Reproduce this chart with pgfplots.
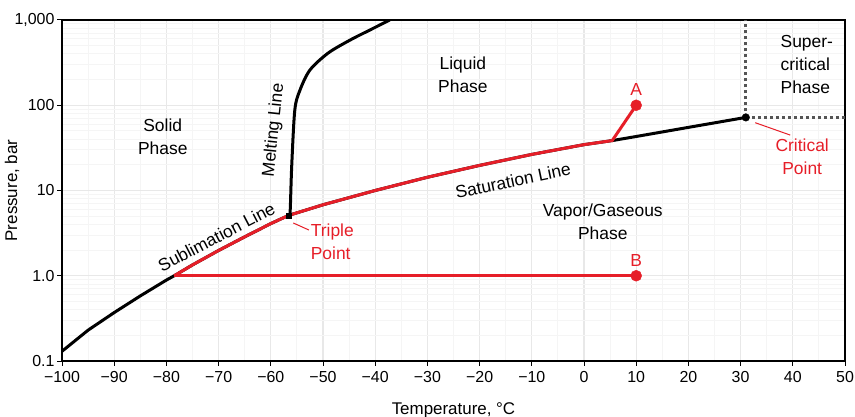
\documentclass[border=0pt]{standalone}
\usepackage{pgfplots}
\pgfplotsset{compat=1.18}
\usepackage{fontspec}
\setmainfont{Liberation Sans}
\definecolor{cred}{RGB}{230,30,40}
\definecolor{cdash}{RGB}{85,85,85}
\tikzset{lbl/.style={font=\fontsize{17.5}{23}\selectfont, align=center}}

\begin{document}
\begin{tikzpicture}
\begin{axis}[
  name=ax,
  scale only axis,
  width=783bp, height=341bp,
  xmin=-100, xmax=50,
  ymode=log, ymin=0.1, ymax=1000,
  xtick={-100,-90,...,50},
  xticklabels={−100,−90,−80,−70,−60,−50,−40,−30,−20,−10,0,10,20,30,40,50},
  ytick={0.1,1,10,100,1000},
  yticklabels={0.1,1.0,10,100,{1,000}},
  minor x tick num=1,
  grid=both,
  major grid style={gray!18, line width=1.2pt},
  minor grid style={gray!8, line width=1pt},
  tick align=outside,
  tick pos=left,
  major tick length=5bp,
  minor tick length=0pt,
  tick style={black, line width=1pt},
  axis line style={line width=1.1pt},
  ticklabel style={font=\fontsize{16}{19}\selectfont},
  xticklabel style={yshift=-2bp},
  yticklabel style={xshift=1bp},
  xlabel={Temperature, °C},
  ylabel={Pressure, bar},
  every axis x label/.style={at={(axis description cs:0.5,-0.1437)}, anchor=center, font=\fontsize{17}{20}\selectfont},
  every axis y label/.style={at={(axis description cs:-0.0639,0.5)}, anchor=center, rotate=90, font=\fontsize{17}{20}\selectfont},
]
% sublimation line
\addplot[black, line width=3bp] coordinates {
  (-100,0.13)(-95,0.23)(-90,0.37)(-85,0.58)(-80,0.89)(-78.5,1.0)(-75,1.34)(-70,1.98)(-65,2.86)(-60,4.09)(-56.6,5.1)};
% saturation line
\addplot[black, line width=3bp] coordinates {
  (-56.6,5.1)(-50,6.8)(-40,10.0)(-30,14.3)(-20,19.7)(-10,26.5)(0,34.5)(5.4,38.5)(10,43)(20,55)(31,72)};
% melting line
\addplot[black, line width=3bp, smooth] coordinates {
  (-56.6,5.1)(-56.3,5.6)(-56,19)(-55.4,88)(-54.4,151)(-52.5,259)(-49,410)(-44.8,582)(-41,764)(-37.2,1000)};
% supercritical boundaries
\addplot[cdash, line width=3bp, dash pattern=on 3.5bp off 2.5bp] coordinates {(31,72)(31,1000)};
\addplot[cdash, line width=3bp, dash pattern=on 3.5bp off 2.5bp] coordinates {(31,72)(50,72)};
% red paths
\addplot[cred, line width=3bp] coordinates {
  (-78.5,1.0)(-75,1.34)(-70,1.98)(-65,2.86)(-60,4.09)(-56.6,5.1)(-50,6.8)(-40,10.0)(-30,14.3)(-20,19.7)(-10,26.5)(0,34.5)(5.4,38.5)(10,100)};
\addplot[cred, line width=3bp] coordinates {(-78.5,1.0)(10,1.0)};
\addplot[cred, only marks, mark=*, mark size=5.5bp] coordinates {(10,100)(10,1.0)};
\addplot[black, only marks, mark=*, mark size=3.8bp] coordinates {(31,72)};
\addplot[black, only marks, mark=square*, mark size=2.5bp] coordinates {(-56.6,5.1)};

\node[lbl] at (axis cs:-80.7,42.5) {Solid\\Phase};
\node[lbl] at (axis cs:-23.2,226) {Liquid\\Phase};
\node[lbl, align=left, anchor=west] at (axis cs:37.0,300) {Super-\\critical\\Phase};
\node[lbl] at (axis cs:3.6,4.27) {Vapor/Gaseous\\Phase};
\node[lbl, rotate=84] at (axis cs:-59.4,51) {Melting Line};
\node[lbl, rotate=27.5] at (axis cs:-70.4,2.85) {Sublimation Line};
\node[lbl, rotate=11.8] at (axis cs:-13.6,13.0) {Saturation Line};
\node[lbl, text=cred, align=left, anchor=west] at (axis cs:-53.0,2.49) {Triple\\Point};
\node[lbl, text=cred] at (axis cs:41.8,24.7) {Critical\\Point};
\node[lbl, text=cred] at (axis cs:10,153) {A};
\node[lbl, text=cred] at (axis cs:10,1.53) {B};
\draw[cred, line width=1bp] (axis cs:-55.7,4.16) -- (axis cs:-52.7,3.44);
\draw[cred, line width=1bp] (axis cs:32.8,62.4) -- (axis cs:39.5,44.7);
\end{axis}
\pgfresetboundingbox
\path[use as bounding box] ([shift={(-62bp,-56bp)}]ax.south west) rectangle ([shift={(10bp,20bp)}]ax.north east);
\end{tikzpicture}
\end{document}
